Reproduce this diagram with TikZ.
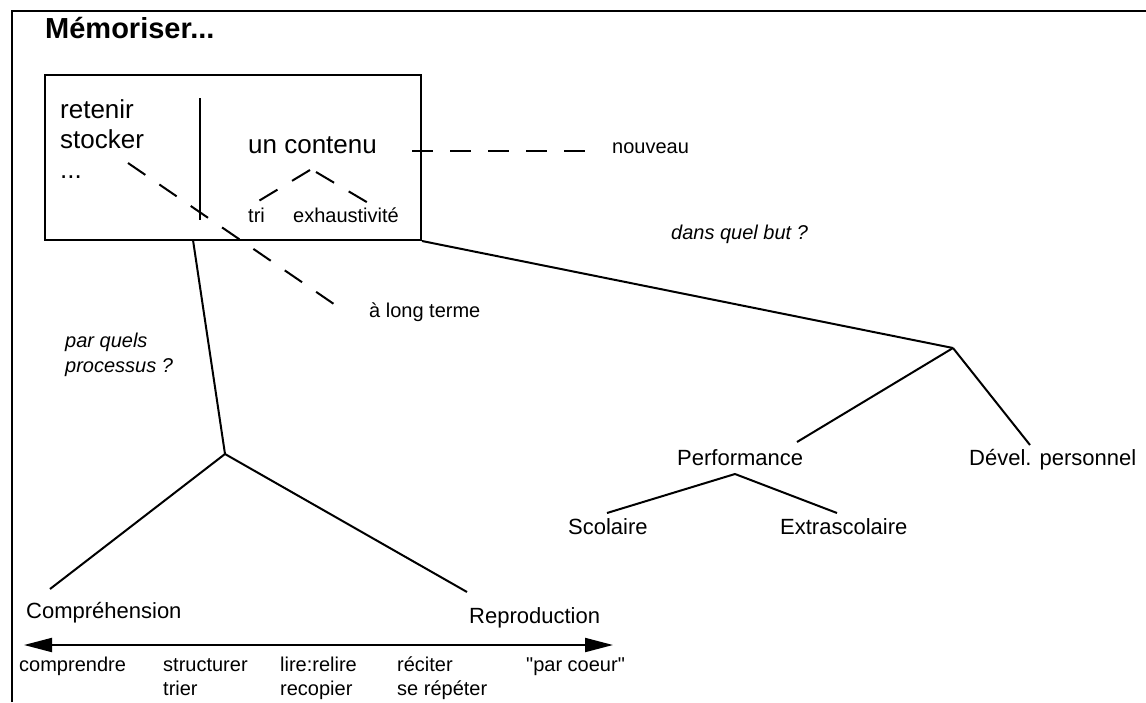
\documentclass[tikz,border=0pt]{standalone}
\usepackage{fontspec}
\setmainfont{Liberation Sans}
\usetikzlibrary{arrows.meta}

\begin{document}
\begin{tikzpicture}[x=1pt, y=-1pt,
    block_memo/.style ={rectangle, draw=black, line width=2pt, fill=none,
      minimum width=376pt, minimum height=165pt, inner sep=0pt},
    txt_title/.style ={inner sep=0pt, anchor=base west, font=\fontsize{29}{34}\selectfont\bfseries},
    txt_big/.style ={inner sep=0pt, anchor=base west, align=left, font=\fontsize{26}{30}\selectfont},
    txt_mid/.style ={inner sep=0pt, anchor=base west, font=\fontsize{22}{26}\selectfont},
    txt_small/.style ={inner sep=0pt, anchor=base west, align=left, font=\fontsize{20}{24}\selectfont},
    txt_ask/.style ={inner sep=0pt, anchor=base west, align=left, font=\fontsize{20}{25}\selectfont\itshape},
    line/.style ={draw, line width=2pt},
    dash_line/.style ={draw, line width=2pt, dash pattern=on 21pt off 17pt}]
    \useasboundingbox (0,0) rectangle (1146,702);
    % frame and title
    \coordinate (frame_bl) at (12,702);
    \coordinate (frame_tl) at (12,11);
    \coordinate (frame_tr) at (1146,11);
    \node [txt_title] (title) at (45,38) {Mémoriser...};
    % the box (multi-line texts sit on their last baseline)
    \node [block_memo] (memo) at (233,157.5) {};
    \node [txt_big] (verbs) at (60,178) {retenir\\stocker\\...};
    \node [txt_big] (content) at (248,153) {un contenu};
    \node [txt_small] (tri) at (248,222) {tri};
    \node [txt_small] (exhaust) at (293,222) {exhaustivité};
    \coordinate (sep_top) at (200,98);
    \coordinate (sep_bot) at (200,220);
    \coordinate (cont_apex_l) at (310,170);
    \coordinate (cont_apex_r) at (316,172);
    \coordinate (tri_top) at (257,202);
    \coordinate (exh_top) at (370,204);
    % qualifiers
    \node [txt_small] (new) at (612,153) {nouveau};
    \node [txt_small] (longterm) at (369,317) {à long terme};
    \coordinate (new_start) at (412,151);
    \coordinate (new_end) at (588,151);
    \coordinate (long_start) at (128,163);
    \coordinate (long_end) at (347,313);
    % questions
    \node [txt_ask] (how) at (65,372) {par quels\\processus ?};
    \node [txt_ask] (why) at (671,239) {dans quel but ?};
    % processes
    \coordinate (memo_foot) at (193,240);
    \coordinate (proc_fork) at (225,454);
    \coordinate (compr_top) at (50,589);
    \coordinate (repro_top) at (467,592);
    \node [txt_mid] (compr) at (26,618) {Compréhension};
    \node [txt_mid] (repro) at (469,623) {Reproduction};
    \coordinate (scale_l) at (24,645);
    \coordinate (scale_r) at (613,645);
    \node [txt_small] (s1) at (19,671) {comprendre};
    \node [txt_small] (s2) at (163,695) {structurer\\trier};
    \node [txt_small] (s3) at (280,695) {lire:relire\\recopier};
    \node [txt_small] (s4) at (397,695) {réciter\\se répéter};
    \node [txt_small] (s5) at (526,671) {\textquotedbl par coeur\textquotedbl};
    % goals
    \coordinate (goal_fork) at (953,348);
    \coordinate (perf_top) at (797,442);
    \coordinate (devel_top) at (1030,445);
    \coordinate (perf_foot) at (735,474);
    \coordinate (scol_top) at (607,513);
    \coordinate (extra_top) at (837,513);
    \node [txt_mid] (perf) at (677,465) {Performance};
    \node [txt_mid] (devel) at (969,465) {Dével. personnel};
    \node [txt_mid] (scol) at (568,534) {Scolaire};
    \node [txt_mid] (extra) at (780,534) {Extrascolaire};
    % connecting everything
    \begin{scope}[every path/.style=line]
      \path (frame_bl) -- (frame_tl) -- (frame_tr);
      \path (sep_top) -- (sep_bot);
      \path (memo_foot) -- (proc_fork);
      \path (proc_fork) -- (compr_top);
      \path (proc_fork) -- (repro_top);
      \path (memo.south east) -- (goal_fork);
      \path (goal_fork) -- (perf_top);
      \path (goal_fork) -- (devel_top);
      \path (perf_foot) -- (scol_top);
      \path (perf_foot) -- (extra_top);
      \path [{Triangle[length=28pt,width=14pt]}-{Triangle[length=28pt,width=14pt]}] (scale_l) -- (scale_r);
    \end{scope}
    \begin{scope}[every path/.style=dash_line]
      \path (cont_apex_l) -- (tri_top);
      \path (cont_apex_r) -- (exh_top);
      \path (new_start) -- (new_end);
      \path (long_start) -- (long_end);
    \end{scope}
\end{tikzpicture}
\end{document}
